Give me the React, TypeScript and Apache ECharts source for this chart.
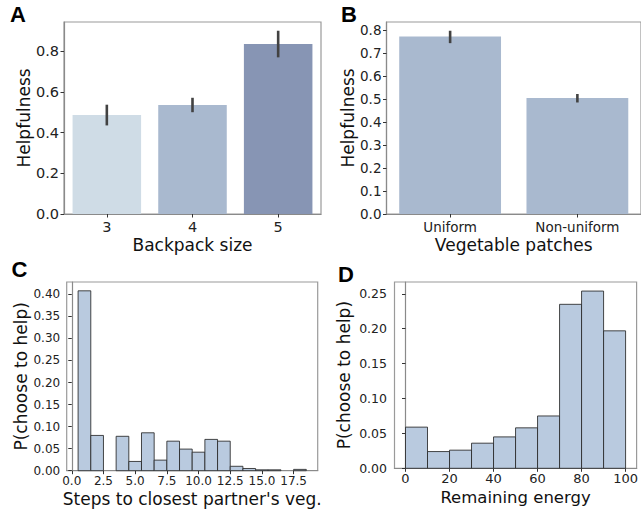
import React, { useEffect, useRef } from "react";
import * as echarts from "echarts";

// ---------- data ----------
const backpackSizes = ["3", "4", "5"];
const backpackHelp = [0.487, 0.536, 0.837];
const backpackErrLow = [0.436, 0.501, 0.771];
const backpackErrHigh = [0.538, 0.572, 0.902];

const patchTypes = ["Uniform", "Non-uniform"];
const patchHelp = [0.772, 0.505];
const patchErrLow = [0.743, 0.485];
const patchErrHigh = [0.797, 0.522];

const stepsBinStart = 0.5;
const stepsBinWidth = 1;
const stepsProb = [
  0.408, 0.08, 0, 0.078, 0.021, 0.086, 0.024, 0.067, 0.049, 0.042, 0.071, 0.067,
  0.01, 0.005, 0.002, 0.002, 0, 0.003,
];

const energyBinStart = 0;
const energyBinWidth = 10;
const energyProb = [0.059, 0.024, 0.026, 0.036, 0.045, 0.058, 0.075, 0.235, 0.254, 0.197];

const aYTicks = [0, 0.2, 0.4, 0.6, 0.8];
const bYTicks = [0, 0.1, 0.2, 0.3, 0.4, 0.5, 0.6, 0.7, 0.8];
const cYTicks = [0, 0.05, 0.1, 0.15, 0.2, 0.25, 0.3, 0.35, 0.4];
const cXTicks = [0, 2.5, 5, 7.5, 10, 12.5, 15, 17.5];
const dYTicks = [0, 0.05, 0.1, 0.15, 0.2, 0.25];
const dXTicks = [0, 20, 40, 60, 80, 100];

// ---------- styles ----------
const backpackColors = ["#cfdce6", "#a9b9cf", "#8795b4"];
const patchColor = "#a9b9cf";
const histFill = "#b9cadf";
const histEdge = "rgba(40,40,40,0.85)";
const FONT = "DejaVu Sans";
const spine = "#8a8a8a";

function binsToData(start: number, width: number, probs: number[]) {
  const out: number[][] = [];
  probs.forEach((p, i) => {
    if (p > 0) out.push([start + i * width, start + (i + 1) * width, p]);
  });
  return out;
}

function valueAxisY(gridIndex: number, max: number, ticks: number[], digits: number, fs: number, margin: number, name: string, nameGap: number) {
  return {
    type: "value",
    gridIndex,
    min: 0,
    max,
    name,
    nameLocation: "middle",
    nameGap,
    nameTextStyle: { fontFamily: FONT, fontSize: 17, lineHeight: 17, color: "#111" },
    axisLine: { show: true, lineStyle: { color: spine, width: 1.2 } },
    axisTick: { show: true, length: 3.5, lineStyle: { color: "#333" }, customValues: ticks },
    axisLabel: {
      fontFamily: FONT,
      fontSize: fs,
      lineHeight: fs,
      color: "#222",
      margin,
      customValues: ticks,
      formatter: (v: number) => v.toFixed(digits),
    },
    splitLine: { show: false },
  };
}

function catAxisX(gridIndex: number, cats: string[], fs: number, name: string, nameGap: number) {
  return {
    type: "category",
    gridIndex,
    data: cats,
    name,
    nameLocation: "middle",
    nameGap,
    nameTextStyle: { fontFamily: FONT, fontSize: 17, lineHeight: 17, color: "#111" },
    axisLine: { show: true, lineStyle: { color: spine, width: 1.2 } },
    axisTick: { show: true, alignWithLabel: true, length: 3.5, lineStyle: { color: "#333" } },
    axisLabel: { fontFamily: FONT, fontSize: fs, lineHeight: fs, color: "#222", margin: 6 },
    splitLine: { show: false },
  };
}

function valueAxisX(gridIndex: number, min: number, max: number, ticks: number[], digits: number, fs: number, name: string, nameGap: number, nameSize: number) {
  return {
    type: "value",
    gridIndex,
    min,
    max,
    name,
    nameLocation: "middle",
    nameGap,
    nameTextStyle: { fontFamily: FONT, fontSize: nameSize, lineHeight: nameSize, color: "#111" },
    axisLine: { show: true, onZero: false, lineStyle: { color: spine, width: 1.2 } },
    axisTick: { show: true, length: 3.5, lineStyle: { color: "#333" }, customValues: ticks },
    axisLabel: {
      fontFamily: FONT,
      fontSize: fs,
      lineHeight: fs,
      color: "#222",
      margin: 4,
      customValues: ticks,
      formatter: (v: number) => v.toFixed(digits),
    },
    splitLine: { show: false },
  };
}

const errRender = (params: any, api: any) => {
  const i = api.value(0);
  const lo = api.coord([i, api.value(1)]);
  const hi = api.coord([i, api.value(2)]);
  return {
    type: "line",
    shape: { x1: lo[0], y1: lo[1], x2: hi[0], y2: hi[1] },
    style: { stroke: "#424242", lineWidth: 2.6 },
  };
};

const histRender = (params: any, api: any) => {
  const p0 = api.coord([api.value(0), api.value(2)]);
  const p1 = api.coord([api.value(1), 0]);
  return {
    type: "rect",
    shape: { x: p0[0], y: p0[1], width: p1[0] - p0[0], height: p1[1] - p0[1] },
    style: { fill: histFill, stroke: histEdge, lineWidth: 1 },
  };
};

const gridBase = { show: true, borderColor: "#9a9a9a", borderWidth: 1.2, backgroundColor: "transparent", containLabel: false };

export default function App() {
  const ref = useRef<HTMLDivElement>(null);
  useEffect(() => {
    if (!ref.current) return;
    const chart = echarts.init(ref.current, undefined, { renderer: "svg" });
    const letter = (t: string, x: number, y: number) => ({
      type: "text",
      x,
      y,
      style: { text: t, fontFamily: "Liberation Sans", fontWeight: "bold", fontSize: 22, fill: "#000", textVerticalAlign: "top" },
    });
    chart.setOption({
      animation: false,
      backgroundColor: "#fff",
      grid: [
        { ...gridBase, left: 64, top: 22, width: 257, height: 192 },
        { ...gridBase, left: 386.5, top: 22, width: 257, height: 192 },
        { ...gridBase, left: 66.7, top: 282, width: 251, height: 188.7 },
        { ...gridBase, left: 394.5, top: 282, width: 246, height: 186.3 },
      ],
      xAxis: [
        catAxisX(0, backpackSizes, 14.5, "Backpack size", 22),
        catAxisX(1, patchTypes, 13.5, "Vegetable patches", 22),
        valueAxisX(2, -0.4, 19.4, cXTicks, 1, 12, "Steps to closest partner's veg.", 20, 17),
        valueAxisX(3, -5, 105, dXTicks, 0, 13, "Remaining energy", 21, 16.5),
      ],
      yAxis: [
        valueAxisY(0, 0.945, aYTicks, 1, 14.5, 5, "Helpfulness", 30),
        valueAxisY(1, 0.835, bYTicks, 1, 13.5, 5, "Helpfulness", 28.5),
        valueAxisY(2, 0.428, cYTicks, 2, 12, 6.5, "P(choose to help)", 36.5),
        valueAxisY(3, 0.267, dYTicks, 2, 12.5, 7.5, "P(choose to help)", 42.5),
      ],
      series: [
        {
          type: "bar",
          xAxisIndex: 0,
          yAxisIndex: 0,
          barCategoryGap: "20%",
          data: backpackHelp.map((v, i) => ({ value: v, itemStyle: { color: backpackColors[i] } })),
        },
        {
          type: "custom",
          xAxisIndex: 0,
          yAxisIndex: 0,
          renderItem: errRender,
          encode: { x: 0, y: [1, 2] },
          data: backpackSizes.map((_, i) => [i, backpackErrLow[i], backpackErrHigh[i]]),
          z: 5,
        },
        {
          type: "bar",
          xAxisIndex: 1,
          yAxisIndex: 1,
          barCategoryGap: "20%",
          itemStyle: { color: patchColor },
          data: patchHelp,
        },
        {
          type: "custom",
          xAxisIndex: 1,
          yAxisIndex: 1,
          renderItem: errRender,
          encode: { x: 0, y: [1, 2] },
          data: patchTypes.map((_, i) => [i, patchErrLow[i], patchErrHigh[i]]),
          z: 5,
        },
        {
          type: "custom",
          xAxisIndex: 2,
          yAxisIndex: 2,
          renderItem: histRender,
          encode: { x: [0, 1], y: 2 },
          data: binsToData(stepsBinStart, stepsBinWidth, stepsProb),
        },
        {
          type: "custom",
          xAxisIndex: 3,
          yAxisIndex: 3,
          renderItem: histRender,
          encode: { x: [0, 1], y: 2 },
          data: binsToData(energyBinStart, energyBinWidth, energyProb),
        },
      ],
      graphic: [letter("A", 10, 3), letter("B", 341, 3), letter("C", 11.5, 258), letter("D", 338, 263)],
    });
    return () => chart.dispose();
  }, []);
  return <div ref={ref} style={{ position: "fixed", left: 0, top: 0, width: 641, height: 510 }} />;
}
